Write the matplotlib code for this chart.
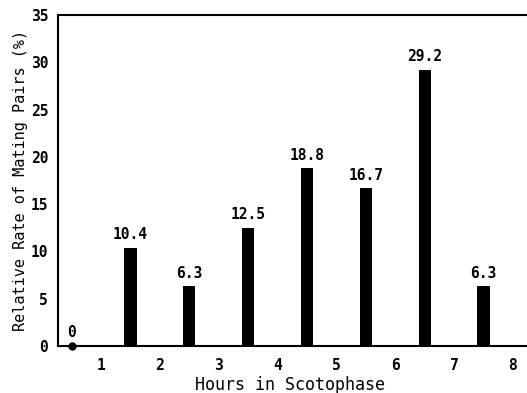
import matplotlib
matplotlib.use("Agg")
import matplotlib.pyplot as plt

hours = [0.5, 1.5, 2.5, 3.5, 4.5, 5.5, 6.5, 7.5]
rates = [0, 10.4, 6.3, 12.5, 18.8, 16.7, 29.2, 6.3]
labels = ["0", "10.4", "6.3", "12.5", "18.8", "16.7", "29.2", "6.3"]
xticks = [1, 2, 3, 4, 5, 6, 7, 8]
yticks = [0, 5, 10, 15, 20, 25, 30, 35]

plt.rcParams['font.family'] = ['DejaVu Sans Mono']
fig = plt.figure(figsize=(5.27, 3.93), dpi=100)
ax = fig.add_axes([0.110, 0.1196, 0.888, 0.8422])

bars = ax.bar(hours, rates, width=0.21, color='black', zorder=3)
zero_x = [h for h, r in zip(hours, rates) if r == 0]
zero_y = [0 for h, r in zip(hours, rates) if r == 0]
ax.plot(zero_x, zero_y, 'o', color='black', markersize=5, zorder=4, clip_on=False)
for h, r, t in zip(hours, rates, labels):
    ax.annotate(t, (h, r), xytext=(0, 4), textcoords='offset points',
                ha='center', va='bottom', fontsize=10.5, fontweight='bold')

ax.set_xlim(0.27, 8.22)
ax.set_ylim(0, 35)
ax.set_xticks(xticks)
ax.set_yticks(yticks)
ax.tick_params(axis='both', length=0, labelsize=10.5)
ax.tick_params(axis='x', pad=9)
ax.tick_params(axis='y', pad=7)
for lbl in ax.get_xticklabels() + ax.get_yticklabels():
    lbl.set_fontweight('bold')
ax.spines['right'].set_visible(False)
for s in ['left', 'bottom', 'top']:
    ax.spines[s].set_linewidth(1.5)

ax.set_xlabel('Hours in Scotophase', fontsize=12, va='baseline')
ax.xaxis.set_label_coords(0.495, -0.134)
ax.set_ylabel('Relative Rate of Mating Pairs (%)', fontsize=11, va='center')
ax.yaxis.set_label_coords(-0.081, 0.5)

fig.savefig('out.png', dpi=100)
